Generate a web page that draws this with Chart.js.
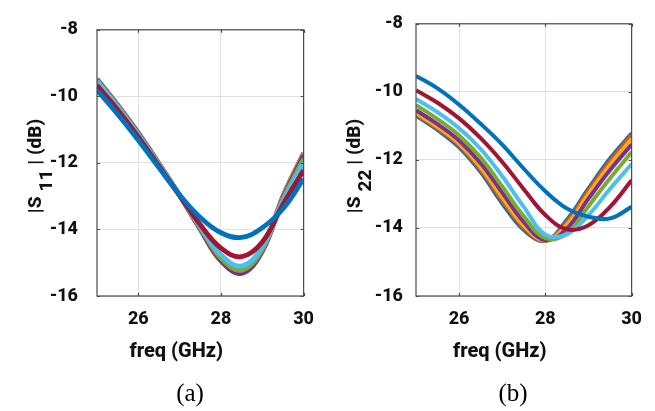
<!DOCTYPE html>
<html>
<head>
<meta charset="utf-8">
<script src="https://cdn.jsdelivr.net/npm/chart.js@4.4.1/dist/chart.umd.min.js"></script>
<style>
    body { margin: 0; background: #fff; width: 655px; height: 411px; overflow: hidden; position: relative; }
    canvas { position: absolute; top: 0; }
    #s11Chart { left: 0; }
    #s22Chart { left: 327px; }
    .caption {
        position: absolute; top: 378px; width: 60px; text-align: center;
        font-family: "Liberation Serif", "DejaVu Serif", serif; font-size: 25px; line-height: 30px; color: #000;
    }
</style>
</head>
<body>
<canvas id="s11Chart" width="327" height="411"></canvas>
<canvas id="s22Chart" width="328" height="411"></canvas>
<div class="caption" style="left:160px">(a)</div>
<div class="caption" style="left:483px">(b)</div>
<script>
// frequency points (GHz) and axis ticks
const freq = [25, 25.5, 26, 26.5, 27, 27.5, 28, 28.5, 29, 29.5, 30];
const xTicks = [26, 28, 30];
const yTicks = [-16, -14, -12, -10, -8];

// MATLAB default line colours, in plot order
const colors = ['#0072BD', '#D95319', '#EDB120', '#7E2F8E', '#77AC30', '#4DBEEE', '#A2142F', '#0072BD'];

// |S11| (dB), plot (a)
const s11Blue1     = [-9.48, -10.26, -11.10, -12.02, -12.98, -14.00, -14.95, -15.30, -14.62, -13.00, -11.70];
const s11Orange    = [-9.49, -10.27, -11.11, -12.03, -12.98, -13.99, -14.94, -15.30, -14.63, -13.02, -11.72];
const s11Yellow    = [-9.50, -10.28, -11.12, -12.04, -12.98, -13.98, -14.93, -15.30, -14.64, -13.04, -11.73];
const s11Purple    = [-9.50, -10.28, -11.12, -12.04, -12.98, -13.98, -14.93, -15.32, -14.66, -13.06, -11.76];
const s11Green     = [-9.52, -10.30, -11.14, -12.05, -12.98, -13.95, -14.86, -15.22, -14.60, -13.10, -11.88];
const s11LightBlue = [-9.55, -10.32, -11.16, -12.06, -12.98, -13.92, -14.76, -15.10, -14.52, -13.15, -12.00];
const s11Red       = [-9.67, -10.40, -11.22, -12.10, -12.98, -13.86, -14.56, -14.82, -14.38, -13.25, -12.22];
const s11Blue8     = [-9.81, -10.54, -11.32, -12.15, -12.96, -13.64, -14.10, -14.24, -13.95, -13.38, -12.48];

// |S22| (dB), plot (b)
const s22Blue1     = [-10.70, -11.12, -11.63, -12.36, -13.28, -14.06, -14.38, -13.76, -12.84, -11.96, -11.22];
const s22Orange    = [-10.66, -11.08, -11.58, -12.30, -13.20, -14.00, -14.38, -13.82, -12.90, -12.03, -11.27];
const s22Yellow    = [-10.62, -11.03, -11.52, -12.22, -13.10, -13.93, -14.37, -13.90, -13.00, -12.14, -11.39];
const s22Purple    = [-10.54, -10.95, -11.43, -12.10, -12.96, -13.82, -14.36, -14.02, -13.14, -12.30, -11.55];
const s22Green     = [-10.39, -10.80, -11.28, -11.93, -12.78, -13.66, -14.30, -14.16, -13.36, -12.54, -11.77];
const s22LightBlue = [-10.21, -10.60, -11.07, -11.68, -12.48, -13.38, -14.20, -14.18, -13.62, -12.85, -12.12];
const s22Red       = [-9.95, -10.32, -10.78, -11.36, -12.06, -12.86, -13.62, -14.04, -13.92, -13.38, -12.60];
const s22Blue8     = [-9.53, -9.90, -10.38, -10.94, -11.55, -12.26, -12.92, -13.43, -13.67, -13.72, -13.38];

const s11Series = [s11Blue1, s11Orange, s11Yellow, s11Purple, s11Green, s11LightBlue, s11Red, s11Blue8];
const s22Series = [s22Blue1, s22Orange, s22Yellow, s22Purple, s22Green, s22LightBlue, s22Red, s22Blue8];

const tickFont = { family: 'Roboto', weight: 800, size: 18 };

// box with inward ticks, plus the axis titles (subscripted y label)
const framePlugin = {
    id: 'frame',
    afterDatasetsDraw(chart, args, opts) {
        const { ctx, chartArea: a } = chart;
        const x = chart.scales.x, y = chart.scales.y;
        ctx.save();
        ctx.strokeStyle = '#4a4a4a';
        ctx.lineWidth = 1.2;
        ctx.strokeRect(a.left, a.top, a.right - a.left, a.bottom - a.top);
        ctx.beginPath();
        xTicks.forEach(v => {
            const px = Math.round(x.getPixelForValue(v)) + 0.5;
            ctx.moveTo(px, a.bottom); ctx.lineTo(px, a.bottom - 3);
            ctx.moveTo(px, a.top); ctx.lineTo(px, a.top + 3);
        });
        yTicks.forEach(v => {
            const py = Math.round(y.getPixelForValue(v)) + 0.5;
            ctx.moveTo(a.left, py); ctx.lineTo(a.left + 3, py);
            ctx.moveTo(a.right, py); ctx.lineTo(a.right - 3, py);
        });
        ctx.stroke();

        ctx.fillStyle = '#111';
        ctx.font = '800 20px Roboto';
        ctx.textAlign = 'center';
        ctx.textBaseline = 'middle';
        ctx.fillText('freq (GHz)', (a.left + a.right) / 2 - 24, 352);

        ctx.font = '800 19px Roboto';
        ctx.textAlign = 'left';
        const parts = ['|S', opts.sub, '| (dB)'];
        const gap = 5;
        const widths = parts.map(p => ctx.measureText(p).width);
        const total = widths[0] + widths[1] + widths[2] + 2 * gap;
        ctx.translate(opts.titleX, 166);
        ctx.rotate(-Math.PI / 2);
        let pos = -total / 2;
        ctx.fillText(parts[0], pos, 0);
        pos += widths[0] + gap;
        ctx.fillText(parts[1], pos, 11);
        pos += widths[1] + gap;
        ctx.fillText(parts[2], pos, 0);
        ctx.restore();
    }
};

function makeChart(id, series, conf) {
    // first series ends up on top in Chart.js, so reverse the plot order
    const datasets = series.map((values, i) => ({
        data: freq.map((f, j) => ({ x: f, y: values[j] })),
        borderColor: colors[i],
        borderWidth: conf.lineWidth,
        pointRadius: 0,
        tension: 0.4,
        fill: false
    })).reverse();

    return new Chart(document.getElementById(id), {
        type: 'line',
        data: { datasets },
        options: {
            responsive: false,
            animation: false,
            events: [],
            layout: { padding: { top: 13, right: conf.padRight, left: 0, bottom: 0 } },
            plugins: {
                legend: { display: false },
                tooltip: { enabled: false },
                frame: { sub: conf.sub, titleX: conf.titleX }
            },
            scales: {
                x: {
                    type: 'linear',
                    min: 25,
                    max: 30,
                    afterBuildTicks: scale => { scale.ticks = xTicks.map(v => ({ value: v })); },
                    afterFit: scale => { scale.height = 115; },
                    grid: { color: '#e0e0e0', drawTicks: false },
                    border: { display: false },
                    ticks: { padding: 13, color: '#111', font: tickFont }
                },
                y: {
                    type: 'linear',
                    min: -16,
                    max: -8,
                    afterBuildTicks: scale => { scale.ticks = yTicks.map(v => ({ value: v })); },
                    afterFit: scale => { scale.width = conf.yWidth; },
                    grid: { color: '#e0e0e0', drawTicks: false },
                    border: { display: false },
                    ticks: { padding: conf.yPad, color: '#111', font: tickFont }
                }
            }
        },
        plugins: [framePlugin]
    });
}

makeChart('s11Chart', s11Series, { lineWidth: 4.8, padRight: 14, yWidth: 97, yPad: 19, sub: '11', titleX: 36 });
makeChart('s22Chart', s22Series, { lineWidth: 4, padRight: 23, yWidth: 89, yPad: 13, sub: '22', titleX: 28 });
</script>
</body>
</html>
